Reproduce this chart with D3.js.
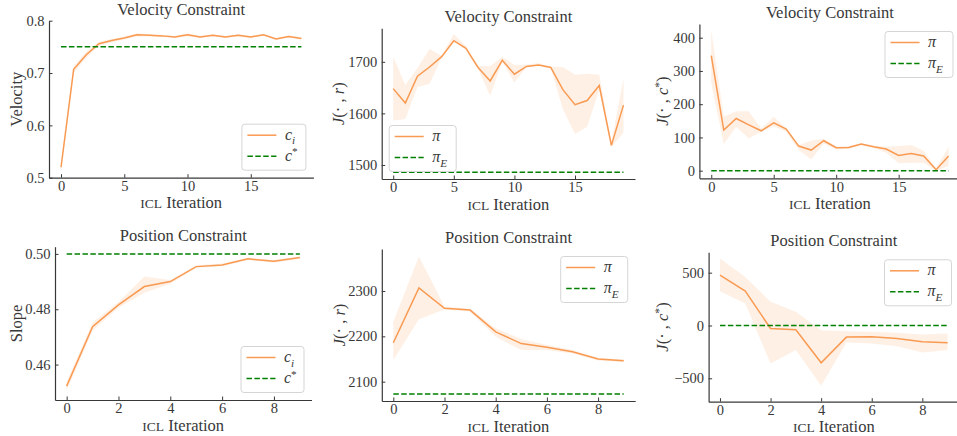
<!DOCTYPE html>
<html>
<head>
<meta charset="utf-8">
<script src="https://cdn.jsdelivr.net/npm/d3@7"></script>
<style>
  body { margin: 0; background: #fff; }
  svg { display: block; font-family: "Liberation Serif", "Times New Roman", serif; }
</style>
</head>
<body>
<svg id="fig" width="957" height="436"></svg>
<script>
// ICL iterations (x values)
const velIters = [0,1,2,3,4,5,6,7,8,9,10,11,12,13,14,15,16,17,18,19];
const posIters = [0,1,2,3,4,5,6,7,8,9];

// Velocity constraint: learned velocity c_i and target c*
const velCi   = [0.520,0.707,0.735,0.756,0.762,0.767,0.773,0.772,0.771,0.769,0.773,0.769,0.772,0.769,0.772,0.769,0.773,0.765,0.770,0.766];
const velCiLo = [0.515,0.700,0.729,0.752,0.759,0.764,0.770,0.770,0.769,0.767,0.770,0.767,0.770,0.767,0.770,0.767,0.771,0.763,0.768,0.764];
const velCiHi = [0.525,0.713,0.741,0.760,0.765,0.770,0.776,0.774,0.773,0.771,0.776,0.771,0.774,0.771,0.774,0.771,0.775,0.767,0.772,0.768];
const velCStar = 0.75;

// Velocity constraint: J(., r)
const velJr   = [1648,1620,1672,1690,1710,1741,1726,1689,1663,1703,1676,1691,1694,1689,1646,1617,1625,1654,1538,1616];
const velJrLo = [1586,1589,1651,1657,1709,1739,1725,1686,1634,1700,1660,1690,1693,1688,1608,1560,1574,1646,1535,1563];
const velJrHi = [1710,1655,1688,1725,1712,1754,1730,1692,1692,1710,1694,1695,1697,1691,1690,1675,1677,1675,1544,1668];
const velJrExpert = 1486;

// Velocity constraint: J(., c*)
const velJc   = [346,122,157,138,120,144,125,74,62,90,69,70,80,72,65,46,52,44,3,44];
const velJcLo = [263,80,132,97,117,134,117,62,34,82,64,66,76,68,54,22,24,24,0,14];
const velJcHi = [423,162,179,179,127,162,127,77,90,97,72,74,82,76,72,74,77,60,7,72];
const velJcExpert = 0;

// Position constraint: learned slope c_i and target c*
const posCi   = [0.4522,0.4737,0.4816,0.4882,0.4900,0.4954,0.4960,0.4982,0.4973,0.4987];
const posCiLo = [0.4505,0.4722,0.4805,0.4860,0.4892,0.4950,0.4955,0.4978,0.4968,0.4982];
const posCiHi = [0.4538,0.4752,0.4826,0.4918,0.4906,0.4958,0.4965,0.4986,0.4978,0.4991];
const posCStar = 0.5;

// Position constraint: J(., r)
const posJr   = [2186,2307,2262,2258,2210,2184,2176,2166,2150,2146];
const posJrLo = [2148,2238,2259,2255,2199,2170,2170,2162,2147,2143];
const posJrHi = [2232,2376,2266,2261,2218,2194,2181,2170,2153,2149];
const posJrExpert = 2073;

// Position constraint: J(., c*)
const posJc   = [476,325,-28,-41,-353,-110,-107,-123,-155,-164];
const posJcLo = [325,208,-360,-233,-571,-161,-170,-196,-255,-233];
const posJcHi = [634,460,224,129,-44,-54,-60,-69,-85,-76];
const posJcExpert = 0;

const orange = "#f99a52";
const green = "#008000";
const ink = "#383838";

const svg = d3.select("#fig");

// label pieces: {t, it, sub, sup}
const cLabelSub = [{t: "c", it: true}, {t: "i", it: true, sub: true}];
const cLabelSup = [{t: "c", it: true}, {t: "*", sup: true}];
const piLabel = [{t: "π", it: true}];
const piELabel = [{t: "π", it: true}, {t: "E", it: true, sub: true}];
const jrLabel = [{t: "J", it: true}, {t: "(· , "}, {t: "r", it: true}, {t: ")"}];
const jcLabel = [{t: "J", it: true}, {t: "(· , "}, {t: "c", it: true}, {t: "*", sup: true}, {t: ")"}];

function writePieces(text, pieces, size) {
    let shift = 0;
    pieces.forEach(p => {
        const target = p.sub ? size * 0.3 : p.sup ? -size * 0.33 : 0;
        text.append("tspan")
            .attr("dy", target - shift)
            .attr("font-style", p.it ? "italic" : "normal")
            .attr("font-size", (p.sub || p.sup) ? size * 0.7 : size)
            .text(p.t);
        shift = target;
    });
}

function drawPanel(p) {
    const x = d3.scaleLinear().domain(p.xDomain).range([p.left, p.right]);
    const y = d3.scaleLinear().domain(p.yDomain).range([p.bottom, p.top]);
    const g = svg.append("g");

    // shaded band
    g.append("path")
        .datum(p.iters.map((d, i) => [d, p.lo[i], p.hi[i]]))
        .attr("d", d3.area().x(d => x(d[0])).y0(d => y(d[1])).y1(d => y(d[2])))
        .attr("fill", orange)
        .attr("fill-opacity", 0.15);

    // mean line
    g.append("path")
        .datum(p.iters.map((d, i) => [d, p.mean[i]]))
        .attr("d", d3.line().x(d => x(d[0])).y(d => y(d[1])))
        .attr("fill", "none")
        .attr("stroke", orange)
        .attr("stroke-width", 1.5);

    // reference (dashed)
    g.append("path")
        .datum(p.iters.map(d => [d, p.ref]))
        .attr("d", d3.line().x(d => x(d[0])).y(d => y(d[1])))
        .attr("fill", "none")
        .attr("stroke", green)
        .attr("stroke-width", 1.5)
        .attr("stroke-dasharray", "5.5,2.4");

    // axes
    const xAxis = g.append("g")
        .attr("transform", `translate(0,${p.bottom})`)
        .call(d3.axisBottom(x).tickValues(p.xTicks).tickFormat(d3.format("d"))
            .tickSizeInner(-3.5).tickSizeOuter(0).tickPadding(3));
    const yAxis = g.append("g")
        .attr("transform", `translate(${p.left},0)`)
        .call(d3.axisLeft(y).tickValues(p.yTicks).tickFormat(d3.format(p.yFormat))
            .tickSizeInner(-3.5).tickSizeOuter(0).tickPadding(4.5));
    [xAxis, yAxis].forEach(a => {
        a.attr("font-family", null).attr("font-size", 14.5);
        a.select(".domain").attr("stroke", ink).attr("stroke-width", 1.2);
        a.selectAll(".tick line").attr("stroke", ink).attr("stroke-width", 1);
        a.selectAll(".tick text").attr("fill", ink);
    });

    // title
    g.append("text")
        .attr("x", (p.left + p.right) / 2)
        .attr("y", p.top - 6)
        .attr("text-anchor", "middle")
        .attr("font-size", 16.5)
        .attr("fill", ink)
        .text(p.title);

    // x label
    const xl = g.append("text")
        .attr("x", (p.left + p.right) / 2)
        .attr("y", p.bottom + 30.5)
        .attr("text-anchor", "middle")
        .attr("fill", ink);
    xl.append("tspan").attr("font-size", 13.5).text("ICL");
    xl.append("tspan").attr("font-size", 16.5).text(" Iteration");

    // y label
    const yl = g.append("text")
        .attr("transform", `translate(${p.yLabelX},${(p.top + p.bottom) / 2}) rotate(-90)`)
        .attr("text-anchor", "middle")
        .attr("font-size", 16.5)
        .attr("fill", ink);
    writePieces(yl, p.yLabel, 16.5);

    // legend
    const lw = p.legendW, lh = 46, pad = 7.5;
    const lx = p.legendLoc.includes("right") ? p.right - pad - lw : p.left + pad;
    const ly = p.legendLoc.includes("lower") ? p.bottom - pad - lh : p.top + pad;
    const lg = g.append("g").attr("transform", `translate(${lx},${ly})`);
    lg.append("rect")
        .attr("width", lw).attr("height", lh).attr("rx", 3)
        .attr("fill", "#fff").attr("fill-opacity", 0.8)
        .attr("stroke", "#d5d5d5").attr("stroke-width", 1);
    const entries = [
        {label: p.meanLabel, stroke: orange, dash: null, dy: 11},
        {label: p.refLabel, stroke: green, dash: "5.5,2.4", dy: 32}
    ];
    entries.forEach(e => {
        lg.append("line")
            .attr("x1", 5.5).attr("x2", 34.5)
            .attr("y1", e.dy).attr("y2", e.dy)
            .attr("stroke", e.stroke).attr("stroke-width", 1.5)
            .attr("stroke-dasharray", e.dash);
        const t = lg.append("text")
            .attr("x", 43).attr("y", e.dy + 4.5)
            .attr("fill", ink);
        writePieces(t, e.label, 16);
    });
}

const panels = [
    {title: "Velocity Constraint", iters: velIters, mean: velCi, lo: velCiLo, hi: velCiHi, ref: velCStar,
     left: 49, right: 313.4, top: 20.7, bottom: 177.7, xDomain: [-0.95, 19.95], yDomain: [0.5, 0.8],
     xTicks: [0, 5, 10, 15], yTicks: [0.5, 0.6, 0.7, 0.8], yFormat: ".1f",
     yLabel: [{t: "Velocity"}], yLabelX: 21.5, meanLabel: cLabelSub, refLabel: cLabelSup,
     legendLoc: "lower right", legendW: 64},
    {title: "Velocity Constraint", iters: velIters, mean: velJr, lo: velJrLo, hi: velJrHi, ref: velJrExpert,
     left: 381.7, right: 635, top: 28.3, bottom: 179, xDomain: [-0.95, 19.95], yDomain: [1472.8, 1765],
     xTicks: [0, 5, 10, 15], yTicks: [1500, 1600, 1700], yFormat: "d",
     yLabel: jrLabel, yLabelX: 344, meanLabel: piLabel, refLabel: piELabel,
     legendLoc: "lower left", legendW: 67},
    {title: "Velocity Constraint", iters: velIters, mean: velJc, lo: velJcLo, hi: velJcHi, ref: velJcExpert,
     left: 699.4, right: 960.5, top: 24, bottom: 178.3, xDomain: [-0.95, 19.95], yDomain: [-22.9, 441.2],
     xTicks: [0, 5, 10, 15], yTicks: [0, 100, 200, 300, 400], yFormat: "d",
     yLabel: jcLabel, yLabelX: 668, meanLabel: piLabel, refLabel: piELabel,
     legendLoc: "upper right", legendW: 68},
    {title: "Position Constraint", iters: posIters, mean: posCi, lo: posCiLo, hi: posCiHi, ref: posCStar,
     left: 55, right: 311.5, top: 246.7, bottom: 400, xDomain: [-0.45, 9.45], yDomain: [0.4472, 0.5026],
     xTicks: [0, 2, 4, 6, 8], yTicks: [0.46, 0.48, 0.50], yFormat: ".2f",
     yLabel: [{t: "Slope"}], yLabelX: 21.5, meanLabel: cLabelSub, refLabel: cLabelSup,
     legendLoc: "lower right", legendW: 63},
    {title: "Position Constraint", iters: posIters, mean: posJr, lo: posJrLo, hi: posJrHi, ref: posJrExpert,
     left: 381.8, right: 635.2, top: 249, bottom: 401, xDomain: [-0.45, 9.45], yDomain: [2057.4, 2392.7],
     xTicks: [0, 2, 4, 6, 8], yTicks: [2100, 2200, 2300], yFormat: "d",
     yLabel: jrLabel, yLabelX: 345, meanLabel: piLabel, refLabel: piELabel,
     legendLoc: "upper right", legendW: 67},
    {title: "Position Constraint", iters: posIters, mean: posJc, lo: posJcLo, hi: posJcHi, ref: posJcExpert,
     left: 708.6, right: 959, top: 252.3, bottom: 401.7, xDomain: [-0.45, 9.45], yDomain: [-721.6, 693],
     xTicks: [0, 2, 4, 6, 8], yTicks: [-500, 0, 500], yFormat: "d",
     yLabel: jcLabel, yLabelX: 668, meanLabel: piLabel, refLabel: piELabel,
     legendLoc: "upper right", legendW: 67}
];

panels.forEach(drawPanel);
</script>
</body>
</html>
